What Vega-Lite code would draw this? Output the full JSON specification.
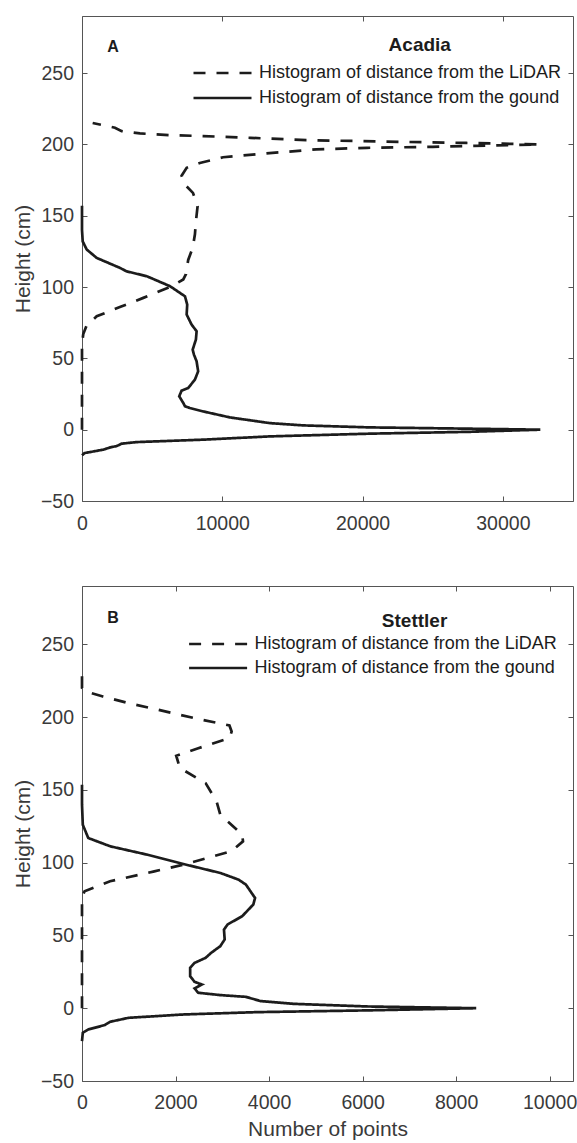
{
  "$schema": "https://vega.github.io/schema/vega-lite/v6.json",
  "padding": {"left": 11, "top": 15, "right": 4, "bottom": 0},
  "data": {"values": [
    {"panel":"A","series":"Histogram of distance from the LiDAR","n":0,"h":0},
    {"panel":"A","series":"Histogram of distance from the LiDAR","n":0,"h":30},
    {"panel":"A","series":"Histogram of distance from the LiDAR","n":0,"h":60},
    {"panel":"A","series":"Histogram of distance from the LiDAR","n":90,"h":67},
    {"panel":"A","series":"Histogram of distance from the LiDAR","n":330,"h":73},
    {"panel":"A","series":"Histogram of distance from the LiDAR","n":1050,"h":79.5},
    {"panel":"A","series":"Histogram of distance from the LiDAR","n":2700,"h":86},
    {"panel":"A","series":"Histogram of distance from the LiDAR","n":4370,"h":92.4},
    {"panel":"A","series":"Histogram of distance from the LiDAR","n":6270,"h":100},
    {"panel":"A","series":"Histogram of distance from the LiDAR","n":7220,"h":105.3},
    {"panel":"A","series":"Histogram of distance from the LiDAR","n":7410,"h":109},
    {"panel":"A","series":"Histogram of distance from the LiDAR","n":7570,"h":119},
    {"panel":"A","series":"Histogram of distance from the LiDAR","n":7890,"h":127.4},
    {"panel":"A","series":"Histogram of distance from the LiDAR","n":8050,"h":137},
    {"panel":"A","series":"Histogram of distance from the LiDAR","n":8120,"h":146},
    {"panel":"A","series":"Histogram of distance from the LiDAR","n":8240,"h":156.7},
    {"panel":"A","series":"Histogram of distance from the LiDAR","n":7910,"h":166},
    {"panel":"A","series":"Histogram of distance from the LiDAR","n":7320,"h":172},
    {"panel":"A","series":"Histogram of distance from the LiDAR","n":7100,"h":178},
    {"panel":"A","series":"Histogram of distance from the LiDAR","n":7460,"h":183.6},
    {"panel":"A","series":"Histogram of distance from the LiDAR","n":8400,"h":187},
    {"panel":"A","series":"Histogram of distance from the LiDAR","n":10060,"h":191},
    {"panel":"A","series":"Histogram of distance from the LiDAR","n":13150,"h":193.7},
    {"panel":"A","series":"Histogram of distance from the LiDAR","n":16700,"h":196.5},
    {"panel":"A","series":"Histogram of distance from the LiDAR","n":20300,"h":197.6},
    {"panel":"A","series":"Histogram of distance from the LiDAR","n":25000,"h":198.3},
    {"panel":"A","series":"Histogram of distance from the LiDAR","n":29500,"h":199.3},
    {"panel":"A","series":"Histogram of distance from the LiDAR","n":32600,"h":200},
    {"panel":"A","series":"Histogram of distance from the LiDAR","n":30000,"h":200.5},
    {"panel":"A","series":"Histogram of distance from the LiDAR","n":27400,"h":201},
    {"panel":"A","series":"Histogram of distance from the LiDAR","n":22650,"h":201.8},
    {"panel":"A","series":"Histogram of distance from the LiDAR","n":16000,"h":203},
    {"panel":"A","series":"Histogram of distance from the LiDAR","n":12000,"h":204.6},
    {"panel":"A","series":"Histogram of distance from the LiDAR","n":8640,"h":205.8},
    {"panel":"A","series":"Histogram of distance from the LiDAR","n":6270,"h":206.5},
    {"panel":"A","series":"Histogram of distance from the LiDAR","n":4130,"h":207.7},
    {"panel":"A","series":"Histogram of distance from the LiDAR","n":2830,"h":209.3},
    {"panel":"A","series":"Histogram of distance from the LiDAR","n":2350,"h":211.7},
    {"panel":"A","series":"Histogram of distance from the LiDAR","n":760,"h":215},
    {"panel":"A","series":"Histogram of distance from the gound","n":0,"h":-18},
    {"panel":"A","series":"Histogram of distance from the gound","n":185,"h":-16.4},
    {"panel":"A","series":"Histogram of distance from the gound","n":570,"h":-15.7},
    {"panel":"A","series":"Histogram of distance from the gound","n":1520,"h":-14},
    {"panel":"A","series":"Histogram of distance from the gound","n":2020,"h":-12.4},
    {"panel":"A","series":"Histogram of distance from the gound","n":2470,"h":-11.5},
    {"panel":"A","series":"Histogram of distance from the gound","n":2830,"h":-9.8},
    {"panel":"A","series":"Histogram of distance from the gound","n":3900,"h":-8.7},
    {"panel":"A","series":"Histogram of distance from the gound","n":8640,"h":-7},
    {"panel":"A","series":"Histogram of distance from the gound","n":13400,"h":-4.7},
    {"panel":"A","series":"Histogram of distance from the gound","n":20500,"h":-2.8},
    {"panel":"A","series":"Histogram of distance from the gound","n":27600,"h":-1.5},
    {"panel":"A","series":"Histogram of distance from the gound","n":32670,"h":0},
    {"panel":"A","series":"Histogram of distance from the gound","n":27600,"h":0.7},
    {"panel":"A","series":"Histogram of distance from the gound","n":20500,"h":1.6},
    {"panel":"A","series":"Histogram of distance from the gound","n":15760,"h":3},
    {"panel":"A","series":"Histogram of distance from the gound","n":13390,"h":4.6},
    {"panel":"A","series":"Histogram of distance from the gound","n":10540,"h":8.6},
    {"panel":"A","series":"Histogram of distance from the gound","n":8640,"h":12.8},
    {"panel":"A","series":"Histogram of distance from the gound","n":7690,"h":15.2},
    {"panel":"A","series":"Histogram of distance from the gound","n":7340,"h":16.4},
    {"panel":"A","series":"Histogram of distance from the gound","n":7220,"h":18.7},
    {"panel":"A","series":"Histogram of distance from the gound","n":6930,"h":23.4},
    {"panel":"A","series":"Histogram of distance from the gound","n":7100,"h":27.4},
    {"panel":"A","series":"Histogram of distance from the gound","n":7570,"h":29.2},
    {"panel":"A","series":"Histogram of distance from the gound","n":8050,"h":35.1},
    {"panel":"A","series":"Histogram of distance from the gound","n":8280,"h":40.9},
    {"panel":"A","series":"Histogram of distance from the gound","n":8170,"h":47.9},
    {"panel":"A","series":"Histogram of distance from the gound","n":7980,"h":52.6},
    {"panel":"A","series":"Histogram of distance from the gound","n":7890,"h":56.1},
    {"panel":"A","series":"Histogram of distance from the gound","n":8120,"h":63.2},
    {"panel":"A","series":"Histogram of distance from the gound","n":8170,"h":69},
    {"panel":"A","series":"Histogram of distance from the gound","n":7810,"h":73.7},
    {"panel":"A","series":"Histogram of distance from the gound","n":7460,"h":80.7},
    {"panel":"A","series":"Histogram of distance from the gound","n":7500,"h":87.7},
    {"panel":"A","series":"Histogram of distance from the gound","n":7340,"h":93.5},
    {"panel":"A","series":"Histogram of distance from the gound","n":6270,"h":100.6},
    {"panel":"A","series":"Histogram of distance from the gound","n":4610,"h":107.6},
    {"panel":"A","series":"Histogram of distance from the gound","n":3180,"h":111},
    {"panel":"A","series":"Histogram of distance from the gound","n":2710,"h":113.4},
    {"panel":"A","series":"Histogram of distance from the gound","n":1050,"h":120.4},
    {"panel":"A","series":"Histogram of distance from the gound","n":335,"h":126.3},
    {"panel":"A","series":"Histogram of distance from the gound","n":50,"h":132},
    {"panel":"A","series":"Histogram of distance from the gound","n":0,"h":140},
    {"panel":"A","series":"Histogram of distance from the gound","n":0,"h":157},
    {"panel":"B","series":"Histogram of distance from the LiDAR","n":0,"h":0},
    {"panel":"B","series":"Histogram of distance from the LiDAR","n":0,"h":40},
    {"panel":"B","series":"Histogram of distance from the LiDAR","n":0,"h":76},
    {"panel":"B","series":"Histogram of distance from the LiDAR","n":55,"h":80.3},
    {"panel":"B","series":"Histogram of distance from the LiDAR","n":600,"h":87.2},
    {"panel":"B","series":"Histogram of distance from the LiDAR","n":1546,"h":94},
    {"panel":"B","series":"Histogram of distance from the LiDAR","n":2173,"h":98.6},
    {"panel":"B","series":"Histogram of distance from the LiDAR","n":3192,"h":107.8},
    {"panel":"B","series":"Histogram of distance from the LiDAR","n":3443,"h":114.6},
    {"panel":"B","series":"Histogram of distance from the LiDAR","n":3426,"h":119.2},
    {"panel":"B","series":"Histogram of distance from the LiDAR","n":2957,"h":133},
    {"panel":"B","series":"Histogram of distance from the LiDAR","n":2878,"h":142},
    {"panel":"B","series":"Histogram of distance from the LiDAR","n":2644,"h":154.6},
    {"panel":"B","series":"Histogram of distance from the LiDAR","n":2094,"h":165},
    {"panel":"B","series":"Histogram of distance from the LiDAR","n":2015,"h":173.4},
    {"panel":"B","series":"Histogram of distance from the LiDAR","n":2486,"h":178.6},
    {"panel":"B","series":"Histogram of distance from the LiDAR","n":3153,"h":185.5},
    {"panel":"B","series":"Histogram of distance from the LiDAR","n":3200,"h":190},
    {"panel":"B","series":"Histogram of distance from the LiDAR","n":3153,"h":194.2},
    {"panel":"B","series":"Histogram of distance from the LiDAR","n":2407,"h":199.2},
    {"panel":"B","series":"Histogram of distance from the LiDAR","n":1624,"h":205},
    {"panel":"B","series":"Histogram of distance from the LiDAR","n":996,"h":209.5},
    {"panel":"B","series":"Histogram of distance from the LiDAR","n":448,"h":214.1},
    {"panel":"B","series":"Histogram of distance from the LiDAR","n":94,"h":217.5},
    {"panel":"B","series":"Histogram of distance from the LiDAR","n":0,"h":220},
    {"panel":"B","series":"Histogram of distance from the LiDAR","n":0,"h":230},
    {"panel":"B","series":"Histogram of distance from the gound","n":0,"h":-22.6},
    {"panel":"B","series":"Histogram of distance from the gound","n":17,"h":-16.9},
    {"panel":"B","series":"Histogram of distance from the gound","n":134,"h":-14.6},
    {"panel":"B","series":"Histogram of distance from the gound","n":486,"h":-11.6},
    {"panel":"B","series":"Histogram of distance from the gound","n":604,"h":-9.3},
    {"panel":"B","series":"Histogram of distance from the gound","n":996,"h":-6.6},
    {"panel":"B","series":"Histogram of distance from the gound","n":2173,"h":-4.3},
    {"panel":"B","series":"Histogram of distance from the gound","n":3741,"h":-2.7},
    {"panel":"B","series":"Histogram of distance from the gound","n":6093,"h":-1.5},
    {"panel":"B","series":"Histogram of distance from the gound","n":8430,"h":0},
    {"panel":"B","series":"Histogram of distance from the gound","n":6093,"h":1.2},
    {"panel":"B","series":"Histogram of distance from the gound","n":4524,"h":3},
    {"panel":"B","series":"Histogram of distance from the gound","n":3818,"h":4.9},
    {"panel":"B","series":"Histogram of distance from the gound","n":3505,"h":7.8},
    {"panel":"B","series":"Histogram of distance from the gound","n":2957,"h":9},
    {"panel":"B","series":"Histogram of distance from the gound","n":2486,"h":10.6},
    {"panel":"B","series":"Histogram of distance from the gound","n":2407,"h":13.6},
    {"panel":"B","series":"Histogram of distance from the gound","n":2565,"h":16.3},
    {"panel":"B","series":"Histogram of distance from the gound","n":2407,"h":18.1},
    {"panel":"B","series":"Histogram of distance from the gound","n":2313,"h":22},
    {"panel":"B","series":"Histogram of distance from the gound","n":2313,"h":27.7},
    {"panel":"B","series":"Histogram of distance from the gound","n":2407,"h":31.1},
    {"panel":"B","series":"Histogram of distance from the gound","n":2644,"h":34.6},
    {"panel":"B","series":"Histogram of distance from the gound","n":2761,"h":38},
    {"panel":"B","series":"Histogram of distance from the gound","n":2957,"h":42.6},
    {"panel":"B","series":"Histogram of distance from the gound","n":3051,"h":47.2},
    {"panel":"B","series":"Histogram of distance from the gound","n":3036,"h":54},
    {"panel":"B","series":"Histogram of distance from the gound","n":3113,"h":57.5},
    {"panel":"B","series":"Histogram of distance from the gound","n":3426,"h":63.2},
    {"panel":"B","series":"Histogram of distance from the gound","n":3663,"h":71.2},
    {"panel":"B","series":"Histogram of distance from the gound","n":3701,"h":75.7},
    {"panel":"B","series":"Histogram of distance from the gound","n":3505,"h":84.9},
    {"panel":"B","series":"Histogram of distance from the gound","n":3348,"h":88.3},
    {"panel":"B","series":"Histogram of distance from the gound","n":2957,"h":92.9},
    {"panel":"B","series":"Histogram of distance from the gound","n":2173,"h":99},
    {"panel":"B","series":"Histogram of distance from the gound","n":1388,"h":105.5},
    {"panel":"B","series":"Histogram of distance from the gound","n":604,"h":111.2},
    {"panel":"B","series":"Histogram of distance from the gound","n":134,"h":116.9},
    {"panel":"B","series":"Histogram of distance from the gound","n":17,"h":126},
    {"panel":"B","series":"Histogram of distance from the gound","n":0,"h":140},
    {"panel":"B","series":"Histogram of distance from the gound","n":0,"h":153.5}
  ]},
  "spacing": 52,
  "vconcat": [
    {
      "width": 491,
      "height": 485,
      "layer": [
        {
          "transform": [{"filter": "datum.panel == 'A'"}],
          "mark": {"type": "line", "strokeWidth": 2.7, "color": "#1c1c1c", "strokeCap": "butt"},
          "encoding": {
            "x": {"field": "n", "type": "quantitative", "scale": {"domain": [0, 35000], "nice": false, "zero": false},
                  "axis": {"values": [0, 10000, 20000, 30000], "format": "d", "title": null, "labelPadding": 18}},
            "y": {"field": "h", "type": "quantitative", "scale": {"domain": [-50, 290], "nice": false, "zero": false},
                  "axis": {"values": [-50, 0, 50, 100, 150, 200, 250], "title": "Height (cm)"}},
            "strokeDash": {"field": "series", "type": "nominal",
              "scale": {"domain": ["Histogram of distance from the LiDAR", "Histogram of distance from the gound"], "range": [[12, 11], [1, 0]]},
              "legend": {"title": null, "orient": "none", "legendX": 110, "legendY": 47, "rowPadding": 5}},
            "order": {"field": "h", "type": "quantitative"}
          }
        },
        {
          "data": {"values": [{}]},
          "mark": {"type": "text", "fontWeight": "bold", "fontSize": 19, "color": "#1c1c1c", "baseline": "middle", "align": "center"},
          "encoding": {
            "x": {"datum": 24076, "type": "quantitative", "axis": {"orient": "top", "labels": false, "title": null, "values": [0, 10000, 20000, 30000]}},
            "y": {"datum": 270, "type": "quantitative", "axis": {"orient": "right", "labels": false, "title": null, "values": [-50, 0, 50, 100, 150, 200, 250]}},
            "text": {"value": "Acadia"}
          }
        },
        {
          "data": {"values": [{}]},
          "mark": {"type": "text", "fontWeight": "bold", "fontSize": 16, "color": "#1c1c1c", "baseline": "middle", "align": "center"},
          "encoding": {
            "x": {"datum": 2208, "type": "quantitative", "axis": null},
            "y": {"datum": 268.5, "type": "quantitative", "axis": null},
            "text": {"value": "A"}
          }
        }
      ],
      "resolve": {"axis": {"x": "independent", "y": "independent"}}
    },
    {
      "width": 491,
      "height": 495,
      "layer": [
        {
          "transform": [{"filter": "datum.panel == 'B'"}],
          "mark": {"type": "line", "strokeWidth": 2.7, "color": "#1c1c1c", "strokeCap": "butt"},
          "encoding": {
            "x": {"field": "n", "type": "quantitative", "scale": {"domain": [0, 10500], "nice": false, "zero": false},
                  "axis": {"values": [0, 2000, 4000, 6000, 8000, 10000], "format": "d", "title": "Number of points", "labelPadding": 17, "titlePadding": 7}},
            "y": {"field": "h", "type": "quantitative", "scale": {"domain": [-50, 290], "nice": false, "zero": false},
                  "axis": {"values": [-50, 0, 50, 100, 150, 200, 250], "title": "Height (cm)"}},
            "strokeDash": {"field": "series", "type": "nominal",
              "scale": {"domain": ["Histogram of distance from the LiDAR", "Histogram of distance from the gound"], "range": [[12, 11], [1, 0]]},
              "legend": {"title": null, "orient": "none", "legendX": 105.6, "legendY": 48, "rowPadding": 4}},
            "order": {"field": "h", "type": "quantitative"}
          }
        },
        {
          "data": {"values": [{}]},
          "mark": {"type": "text", "fontWeight": "bold", "fontSize": 19, "color": "#1c1c1c", "baseline": "middle", "align": "center"},
          "encoding": {
            "x": {"datum": 7112, "type": "quantitative", "axis": {"orient": "top", "labels": false, "title": null, "values": [0, 2000, 4000, 6000, 8000, 10000]}},
            "y": {"datum": 266, "type": "quantitative", "axis": {"orient": "right", "labels": false, "title": null, "values": [-50, 0, 50, 100, 150, 200, 250]}},
            "text": {"value": "Stettler"}
          }
        },
        {
          "data": {"values": [{}]},
          "mark": {"type": "text", "fontWeight": "bold", "fontSize": 16, "color": "#1c1c1c", "baseline": "middle", "align": "center"},
          "encoding": {
            "x": {"datum": 661, "type": "quantitative", "axis": null},
            "y": {"datum": 267.8, "type": "quantitative", "axis": null},
            "text": {"value": "B"}
          }
        }
      ],
      "resolve": {"axis": {"x": "independent", "y": "independent"}}
    }
  ],
  "resolve": {
    "scale": {"x": "independent", "y": "independent", "strokeDash": "independent"},
    "legend": {"strokeDash": "independent"}
  },
  "config": {
    "font": "Liberation Sans",
    "view": {"stroke": "#555555", "strokeWidth": 1},
    "axis": {
      "labelFont": "Liberation Sans", "labelFontSize": 19.5, "labelColor": "#3a3a3a", "labelFlush": false,
      "titleFont": "Liberation Sans", "titleFontSize": 21, "titleFontWeight": "normal", "titleColor": "#3a3a3a",
      "domain": false, "grid": false, "tickSize": -5, "tickColor": "#555555", "tickWidth": 1,
      "labelPadding": 13.5, "titlePadding": 7
    },
    "legend": {
      "labelFont": "Liberation Sans", "labelFontSize": 18, "labelColor": "#1c1c1c",
      "symbolType": "stroke", "symbolSize": 3364, "symbolStrokeWidth": 2.7, "symbolStrokeColor": "#1c1c1c",
      "clipHeight": 20, "labelOffset": 6, "padding": 0, "labelLimit": 400
    }
  }
}
